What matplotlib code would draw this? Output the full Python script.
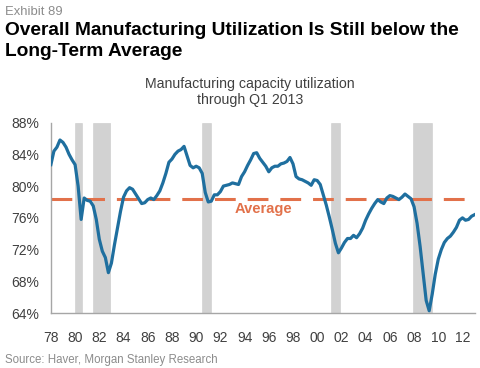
import matplotlib
matplotlib.use("Agg")
import matplotlib.pyplot as plt
import numpy as np

plt.rcParams['font.family'] = ['Liberation Sans', 'DejaVu Sans']

# quarterly manufacturing capacity utilization, 1978Q1 .. 2013Q1
start_year = 1978
utilization = [
    82.7, 84.4, 84.9, 85.8,   # 1978
    85.5, 84.9, 84.0, 83.3,   # 1979
    82.7, 80.0, 75.8, 78.5,   # 1980
    78.2, 78.1, 77.5, 75.8,   # 1981
    73.3, 71.8, 71.0, 69.1,   # 1982
    70.3, 72.6, 74.7, 76.8,   # 1983
    78.6, 79.4, 79.8, 79.6,   # 1984
    79.0, 78.4, 77.8, 77.9,   # 1985
    78.3, 78.5, 78.3, 78.8,   # 1986
    79.4, 80.4, 81.6, 83.0,   # 1987
    83.4, 84.0, 84.4, 84.6,   # 1988
    85.0, 83.8, 82.6, 82.3,   # 1989
    82.5, 82.3, 81.6, 79.2,   # 1990
    78.0, 78.1, 78.9, 78.9,   # 1991
    79.3, 80.0, 80.1, 80.2,   # 1992
    80.4, 80.3, 80.2, 81.2,   # 1993
    81.8, 82.6, 83.3, 84.1,   # 1994
    84.2, 83.5, 83.0, 82.5,   # 1995
    81.8, 82.3, 82.5, 82.5,   # 1996
    82.8, 82.9, 83.1, 83.6,   # 1997
    82.8, 81.2, 80.9, 80.8,   # 1998
    80.6, 80.4, 80.1, 80.8,   # 1999
    80.7, 80.2, 78.9, 77.6,   # 2000
    76.1, 74.5, 72.8, 71.6,   # 2001
    72.2, 72.9, 73.4, 73.4,   # 2002
    73.8, 73.5, 74.0, 74.7,   # 2003
    75.7, 76.5, 77.2, 77.8,   # 2004
    78.3, 78.0, 77.8, 78.5,   # 2005
    78.8, 78.7, 78.5, 78.3,   # 2006
    78.6, 79.0, 78.7, 78.4,   # 2007
    77.4, 75.3, 72.4, 69.0,   # 2008
    65.6, 64.3, 66.4, 68.9,   # 2009
    70.8, 72.0, 72.9, 73.4,   # 2010
    73.7, 74.2, 74.8, 75.7,   # 2011
    76.0, 75.7, 75.8, 76.2,   # 2012
    76.4,                     # 2013
]
long_term_avg = 78.4

# recessions (decimal years, start / end)
rec_start = [1980.0, 1981.5, 1990.5, 2001.17, 2007.92]
rec_end = [1980.58, 1982.92, 1991.25, 2001.92, 2009.5]

tick_years = list(range(1978, 2013, 2))
tick_labels = ['78', '80', '82', '84', '86', '88', '90', '92', '94', '96',
               '98', '00', '02', '04', '06', '08', '10', '12']
y_ticks = [64, 68, 72, 76, 80, 84, 88]

dates = start_year + np.arange(len(utilization)) / 4.0

fig = plt.figure(figsize=(4.8, 3.68), dpi=100)
ax = fig.add_axes([0.106, 0.149, 0.884, 0.518])

# recession shading, one thin bar per month
for s, e in zip(rec_start, rec_end):
    for m in np.arange(s, e, 1 / 12):
        ax.axvspan(m, min(m + 1 / 12, e), facecolor='#c0c0c0',
                   edgecolor='#d6d6d6', lw=0.5, zorder=1)

ax.plot([1978, 2013], [long_term_avg, long_term_avg], color='#e2714a',
        lw=2.2, dashes=(6.8, 3.9), zorder=2)
ax.text(1993.2, 76.65, 'Average', color='#e2714a', fontsize=10.5,
        fontweight='bold', ha='left', va='baseline', zorder=3)
ax.plot(dates, utilization, color='#1f6f9f', lw=2.3, zorder=4,
        solid_joinstyle='round')

ax.set_xlim(1978, 2013.05)
ax.set_ylim(64, 88)
ax.set_xticks(tick_years)
ax.set_xticklabels(tick_labels)
ax.set_yticks(y_ticks)
ax.set_yticklabels([f'{v}%' for v in y_ticks])
ax.tick_params(length=0, labelsize=10, labelcolor='#404040')
ax.tick_params(axis='x', pad=13)
ax.tick_params(axis='y', pad=8.5)
for side in ['top', 'right']:
    ax.spines[side].set_visible(False)
for side in ['left', 'bottom']:
    ax.spines[side].set_color('#a6a6a6')
    ax.spines[side].set_linewidth(1.0)

H = 368.0
fig.text(5 / 480, 1 - 15 / H, 'Exhibit 89', color='#8c8c8c', fontsize=9.4,
         va='baseline', ha='left')
fig.text(5 / 480, 1 - 35 / H, 'Overall Manufacturing Utilization Is Still below the',
         fontsize=13.8, fontweight='bold', va='baseline', ha='left')
fig.text(5 / 480, 1 - 56.5 / H, 'Long-Term Average',
         fontsize=13.8, fontweight='bold', va='baseline', ha='left')
fig.text(250 / 480, 1 - 88 / H, 'Manufacturing capacity utilization',
         fontsize=10.2, color='#404040', va='baseline', ha='center')
fig.text(250 / 480, 1 - 104 / H, 'through Q1 2013',
         fontsize=10.2, color='#404040', va='baseline', ha='center')
fig.text(5 / 480, 1 - 363 / H, 'Source: Haver, Morgan Stanley Research',
         fontsize=8.3, color='#8c8c8c', va='baseline', ha='left')

fig.savefig('out.png', dpi=100)
